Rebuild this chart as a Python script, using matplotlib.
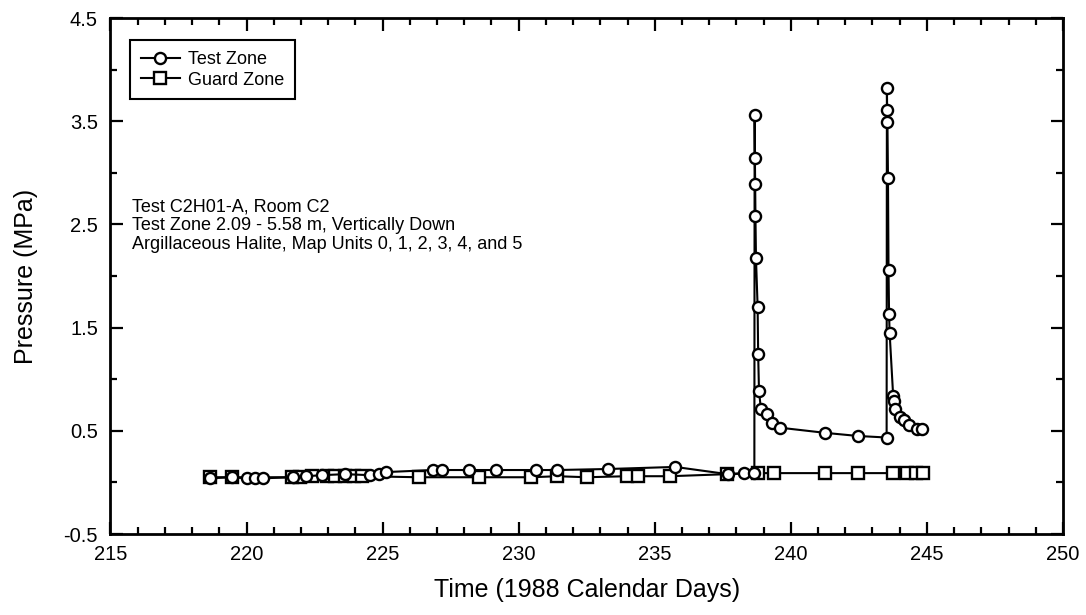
import matplotlib
matplotlib.use("Agg")
import matplotlib.pyplot as plt
from matplotlib.ticker import MultipleLocator

plt.rcParams['font.family'] = ['Liberation Sans', 'DejaVu Sans']

# Test Zone (circles)
test_time = [218.66, 219.45, 220.0, 220.3, 220.62, 221.7, 222.2, 222.76, 223.62,
             224.55, 224.85, 225.12, 226.85, 227.18, 228.19, 229.17, 230.64, 231.42,
             233.30, 235.75, 237.68, 238.27, 238.66,
             238.67, 238.68, 238.69, 238.70, 238.72, 238.78, 238.80, 238.83, 238.90,
             239.13, 239.31, 239.61, 241.27, 242.46, 243.52,
             243.53, 243.54, 243.55, 243.57, 243.59, 243.61, 243.63, 243.76, 243.80,
             243.84, 244.02, 244.15, 244.33, 244.64, 244.82]
test_pressure = [0.04, 0.05, 0.04, 0.04, 0.04, 0.05, 0.06, 0.07, 0.08,
                 0.07, 0.08, 0.10, 0.12, 0.12, 0.12, 0.12, 0.12, 0.12,
                 0.13, 0.15, 0.08, 0.09, 0.09,
                 3.56, 3.14, 2.89, 2.58, 2.17, 1.70, 1.24, 0.89, 0.71,
                 0.66, 0.58, 0.53, 0.48, 0.45, 0.435,
                 3.82, 3.61, 3.49, 2.95, 2.06, 1.63, 1.45, 0.84, 0.79,
                 0.71, 0.63, 0.60, 0.56, 0.515, 0.515]

# Guard Zone (squares)
guard_time = [218.66, 219.45, 221.66, 221.95, 222.4, 222.95, 223.25, 223.62, 223.95,
              224.25, 226.33, 228.55, 230.47, 231.42, 232.5, 233.98, 234.4, 235.56,
              237.67, 238.79, 239.39, 241.27, 242.46, 243.76, 244.27, 244.61, 244.86]
guard_pressure = [0.05, 0.05, 0.05, 0.05, 0.06, 0.06, 0.06, 0.06, 0.06,
                  0.06, 0.05, 0.05, 0.05, 0.06, 0.05, 0.06, 0.06, 0.06,
                  0.08, 0.09, 0.09, 0.09, 0.09, 0.09, 0.09, 0.09, 0.09]

series_labels = ["Test Zone", "Guard Zone"]
annotation_lines = ["Test C2H01-A, Room C2",
                    "Test Zone 2.09 - 5.58 m, Vertically Down",
                    "Argillaceous Halite, Map Units 0, 1, 2, 3, 4, and 5"]
x_label = "Time (1988 Calendar Days)"
y_label = "Pressure (MPa)"

fig = plt.figure(figsize=(10.86, 6.15), dpi=100)
ax = fig.add_axes([0.1017, 0.1317, 0.8771, 0.8390])

ax.plot(test_time, test_pressure, '-o', color='black', lw=1.5, ms=8,
        mfc='white', mec='black', mew=1.7, label=series_labels[0], zorder=3)
ax.plot(guard_time, guard_pressure, '-s', color='black', lw=1.5, ms=8,
        mfc='white', mec='black', mew=1.7, label=series_labels[1], zorder=2)

ax.set_xlim(215, 250)
ax.set_ylim(-0.5, 4.5)
ax.xaxis.set_major_locator(MultipleLocator(5))
ax.xaxis.set_minor_locator(MultipleLocator(1))
ax.set_yticks([-0.5, 0.5, 1.5, 2.5, 3.5, 4.5])
ax.set_yticklabels(["-0.5", "0.5", "1.5", "2.5", "3.5", "4.5"])
ax.set_yticks([0, 1, 2, 3, 4], minor=True)

ax.tick_params(which='both', direction='in', top=True, right=True,
               width=1.6, labelsize=14.5, colors='black')
ax.tick_params(which='major', length=9)
ax.tick_params(which='minor', length=5)
ax.tick_params(axis='x', which='major', pad=8)
ax.tick_params(axis='y', which='major', pad=9)
for s in ax.spines.values():
    s.set_linewidth(2.0)
    s.set_color('black')

ax.set_xlabel(x_label, fontsize=18, labelpad=10)
ax.set_ylabel(y_label, fontsize=18, labelpad=18)

ax.text(215.80, 2.75, "\n".join(annotation_lines), fontsize=13,
        va='top', ha='left', linespacing=1.13)

leg = ax.legend(loc='upper left', bbox_to_anchor=(0.0205, 0.957), borderaxespad=0,
                fontsize=13, handlelength=2.15, handletextpad=0.45, labelspacing=0.2,
                borderpad=0.6, fancybox=False, framealpha=1, edgecolor='black')
leg.get_frame().set_linewidth(1.5)

fig.savefig("out.png", dpi=100)
